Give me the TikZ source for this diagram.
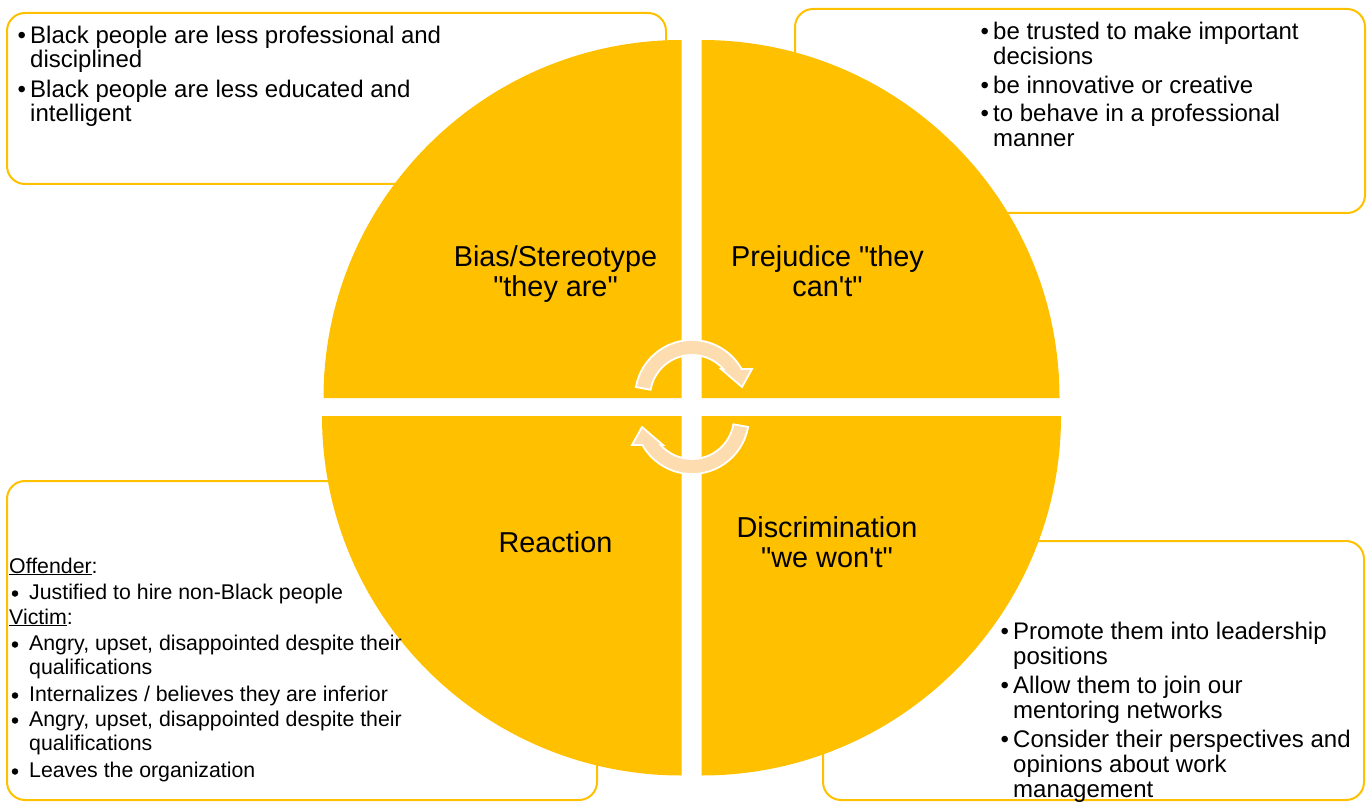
\documentclass[tikz,border=0pt]{standalone}
\usepackage{fontspec}
\setmainfont{Liberation Sans}[Ligatures=TeXOff]
\definecolor{gold}{HTML}{FFC000}
\definecolor{peach}{HTML}{FDDCB0}
\begin{document}
\begin{tikzpicture}[x=1pt,y=-1pt,
  box/.style={draw=gold, line width=2pt, rounded corners=18pt},
  quad/.style={fill=gold},
  lbl/.style={font=\fontsize{28.8}{33}\selectfont, anchor=base, inner sep=0pt},
  txt/.style={font=\fontsize{24}{24}\selectfont, anchor=base west, inner sep=0pt},
  btxt/.style={font=\fontsize{21.3}{24}\selectfont, anchor=base west, inner sep=0pt},
  bdot/.style={circle, fill=black, inner sep=0pt, minimum size=6.5pt},
  cyc/.style={fill=peach, draw=white, line width=1.8pt, line join=miter},
  cycarrow/.pic={\path[cyc] (190:57) arc[start angle=190, end angle=330.6, radius=57]
      -- (60,-28) -- (50,-10) -- (29,-28) -- (318.2:42)
      arc[start angle=318.2, end angle=190, radius=42] -- cycle;}]
\useasboundingbox (0,0) rectangle (1368,802);

% text boxes
\draw[box] (7,13) rectangle (666,184);
\draw[box] (795,9) rectangle (1365,213);
\draw[box] (7,481) rectangle (597,800);
\draw[box] (823,541) rectangle (1364,800);

% quadrants
\fill[quad] (681.5,398) -- ++(-358,0) arc[start angle=180, end angle=270, radius=358] -- cycle;
\fill[quad] (701.5,398) -- ++(0,-358) arc[start angle=270, end angle=360, radius=358] -- cycle;
\fill[quad] (701.5,416) -- ++(359.5,0) arc[start angle=0, end angle=90, radius=359.5] -- cycle;
\fill[quad] (681.5,416) -- ++(0,359.5) arc[start angle=90, end angle=180, radius=359.5] -- cycle;

% cycle arrows
\pic at (692,397) {cycarrow};
\pic[rotate=180] at (692,417) {cycarrow};

% quadrant labels
\node[lbl] (q1a) at (555.5,267) {Bias/Stereotype};
\node[lbl] (q1b) at (555.5,297) {"they are"};
\node[lbl] (q2a) at (827.5,267) {Prejudice "they};
\node[lbl] (q2b) at (827.5,297) {can't"};
\node[lbl] (q3a) at (827,537) {Discrimination};
\node[lbl] (q3b) at (827,567) {"we won't"};
\node[lbl] (q4a) at (555.5,552) {Reaction};

% top-left box
\node[txt] (a0) at (17.5,44) {•};
\node[txt] (a1) at (30,44) {Black people are less professional and};
\node[txt] (a2) at (30,68) {disciplined};
\node[txt] (a3) at (17.5,98) {•};
\node[txt] (a4) at (30,98) {Black people are less educated and};
\node[txt] (a5) at (30,122) {intelligent};

% top-right box
\node[txt] (b0) at (980.5,40) {•};
\node[txt] (b1) at (993,40) {be trusted to make important};
\node[txt] (b2) at (993,65) {decisions};
\node[txt] (b3) at (980.5,94) {•};
\node[txt] (b4) at (993,94) {be innovative or creative};
\node[txt] (b5) at (980.5,122) {•};
\node[txt] (b6) at (993,122) {to behave in a professional};
\node[txt] (b7) at (993,147) {manner};

% bottom-right box
\node[txt] (c0) at (1000.5,639) {•};
\node[txt] (c1) at (1013,639) {Promote them into leadership};
\node[txt] (c2) at (1013,664) {positions};
\node[txt] (c3) at (1000.5,693) {•};
\node[txt] (c4) at (1013,693) {Allow them to join our};
\node[txt] (c5) at (1013,718) {mentoring networks};
\node[txt] (c6) at (1000.5,747) {•};
\node[txt] (c7) at (1013,747) {Consider their perspectives and};
\node[txt] (c8) at (1013,772) {opinions about work};
\node[txt] (c9) at (1013,797) {management};

% bottom-left box
\node[btxt] (d1) at (9,573) {\underline{Offender}:};
\node[bdot] (d2b) at (15,593.5) {};
\node[btxt] (d2) at (29,599) {Justified to hire non-Black people};
\node[btxt] (d3) at (9,624) {\underline{Victim}:};
\node[bdot] (d4b) at (15,644.5) {};
\node[btxt] (d4) at (29,650) {Angry, upset, disappointed despite their};
\node[btxt] (d5) at (29,674) {qualifications};
\node[bdot] (d6b) at (15,695.5) {};
\node[btxt] (d6) at (29,701) {Internalizes / believes they are inferior};
\node[bdot] (d7b) at (15,720.5) {};
\node[btxt] (d7) at (29,726) {Angry, upset, disappointed despite their};
\node[btxt] (d8) at (29,750) {qualifications};
\node[bdot] (d9b) at (15,771.5) {};
\node[btxt] (d9) at (29,777) {Leaves the organization};
\end{tikzpicture}
\end{document}
